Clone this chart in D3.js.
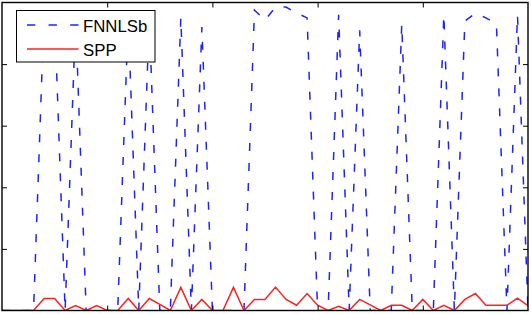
<!DOCTYPE html>
<html>
<head>
<meta charset="utf-8">
<script src="https://cdn.jsdelivr.net/npm/d3@7"></script>
<style>
  body { margin: 0; background: #fff; }
  svg { display: block; }
</style>
</head>
<body>
<script>
const width = 531, height = 314;

// series values, one per sample index 0..50
const fnnlsb = [0, 0, 0, 0, 0.97, 0.96, 0, 0.95, 0, 0, 0, 0, 0.95, 0, 0.95, 0, 0,
  0.95, 0, 0.92, 0, 0, 0, 0, 0.975, 0.943, 0.985, 0.985, 0.966, 0.95, 0, 0,
  0.96, 0, 0.91, 0, 0, 0, 0.93, 0, 0, 0, 0.96, 0, 0.94, 0.965, 0.95, 0.93, 0,
  0.96, 0];
const spp = [0, 0, 0, 0, 0.039, 0.039, 0, 0.016, 0, 0.016, 0, 0, 0.039, 0, 0.039,
  0.02, 0, 0.075, 0, 0.036, 0, 0, 0.075, 0, 0.036, 0.036, 0.076, 0.036, 0.017,
  0.055, 0.017, 0, 0.014, 0, 0.036, 0.018, 0, 0.017, 0.017, 0, 0.036, 0, 0.017,
  0, 0.036, 0.055, 0.017, 0.017, 0.017, 0.04, 0.016];
const seriesNames = ["FNNLSb", "SPP"];
const xTicks = [10, 20, 30, 40];
const yTicks = [0.2, 0.4, 0.6, 0.8];

const plot = {left: 2, right: 528, top: 2.5, bottom: 310.5};

const x = d3.scaleLinear().domain([0, 50]).range([plot.left, plot.right]);
const y = d3.scaleLinear().domain([0, 1]).range([plot.bottom, plot.top]);

const svg = d3.select("body").append("svg")
    .attr("width", width)
    .attr("height", height);

svg.append("defs").append("clipPath")
    .attr("id", "clip")
  .append("rect")
    .attr("x", plot.left)
    .attr("y", plot.top)
    .attr("width", plot.right - plot.left)
    .attr("height", plot.bottom - plot.top);

const line = d3.line()
    .x((d, i) => x(i))
    .y(d => y(d));

const lines = svg.append("g").attr("clip-path", "url(#clip)");

lines.append("path")
    .datum(fnnlsb)
    .attr("d", line)
    .attr("fill", "none")
    .attr("stroke", "#2020ff")
    .attr("stroke-width", 1.5)
    .attr("stroke-dasharray", "8,12");

lines.append("path")
    .datum(spp)
    .attr("d", line)
    .attr("fill", "none")
    .attr("stroke", "#ff2020")
    .attr("stroke-width", 1.5);

// ticks point inward on all four sides
const tickLen = 5;
function addAxis(axis, tx, ty) {
  const g = svg.append("g")
      .attr("transform", `translate(${tx},${ty})`)
      .call(axis);
  g.select(".domain").remove();
  g.selectAll(".tick line").attr("stroke", "#000");
}
addAxis(d3.axisBottom(x).tickValues(xTicks).tickSize(-tickLen).tickFormat(""), 0, plot.bottom);
addAxis(d3.axisTop(x).tickValues(xTicks).tickSize(-tickLen).tickFormat(""), 0, plot.top);
addAxis(d3.axisLeft(y).tickValues(yTicks).tickSize(-tickLen).tickFormat(""), plot.left, 0);
addAxis(d3.axisRight(y).tickValues(yTicks).tickSize(-tickLen).tickFormat(""), plot.right, 0);

svg.append("rect")
    .attr("x", plot.left)
    .attr("y", plot.top)
    .attr("width", plot.right - plot.left)
    .attr("height", plot.bottom - plot.top)
    .attr("fill", "none")
    .attr("stroke", "#000")
    .attr("stroke-width", 1.4);

// legend
const legend = svg.append("g");
legend.append("rect")
    .attr("x", 16.5)
    .attr("y", 10.5)
    .attr("width", 138.5)
    .attr("height", 51.5)
    .attr("fill", "#fff")
    .attr("stroke", "#000")
    .attr("stroke-width", 1);

const legendStyles = [
  {color: "#2020ff", dash: "8.3,13.3"},
  {color: "#ff2020", dash: null}
];
seriesNames.forEach((name, i) => {
  const ly = 25 + i * 24;
  legend.append("line")
      .attr("x1", 27).attr("x2", 78.5)
      .attr("y1", ly).attr("y2", ly)
      .attr("stroke", legendStyles[i].color)
      .attr("stroke-width", 1.5)
      .attr("stroke-dasharray", legendStyles[i].dash);
  legend.append("text")
      .attr("x", 83)
      .attr("y", ly + 6.5)
      .attr("font-family", "Liberation Sans, Arial, sans-serif")
      .attr("font-size", 16.8)
      .attr("fill", "#000")
      .text(name);
});
</script>
</body>
</html>
